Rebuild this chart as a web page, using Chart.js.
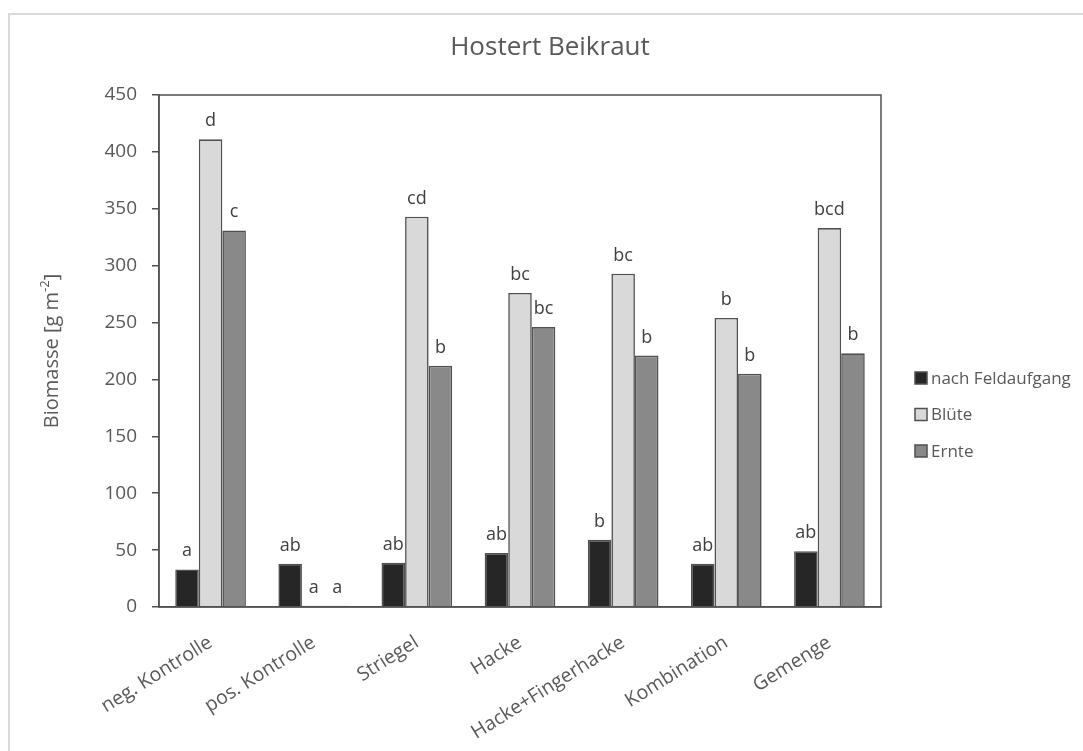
<!DOCTYPE html>
<html>
<head>
<meta charset="utf-8">
<script src="https://cdn.jsdelivr.net/npm/chart.js@4"></script>
<style>
  html, body { margin: 0; padding: 0; background: #fff; }
  #wrap { position: relative; width: 1083px; height: 751px; overflow: hidden; }
  #frame { position: absolute; left: 8px; top: 13px; width: 1200px; height: 900px;
           border-left: 2px solid #d9d9d9; border-top: 2px solid #d9d9d9; }
  canvas { position: absolute; left: 0; top: 0; }
</style>
</head>
<body>
<div id="wrap">
  <div id="frame"></div>
  <canvas id="c" width="1083" height="751"></canvas>
</div>
<script>
// Treatments (x categories)
const categories = ['neg. Kontrolle', 'pos. Kontrolle', 'Striegel', 'Hacke', 'Hacke+Fingerhacke', 'Kombination', 'Gemenge'];

// Weed biomass per sampling date [g m-2]
const nachFeldaufgang = [33, 38, 39, 47.5, 59, 38, 49];
const bluete          = [411, 1.2, 343, 276, 293, 254, 333];
const ernte           = [331, 1.2, 212, 246, 221, 205, 223];

// Significance letters shown above each bar
const lettersNach   = ['a', 'ab', 'ab', 'ab', 'b', 'ab', 'ab'];
const lettersBluete = ['d', 'a', 'cd', 'bc', 'bc', 'b', 'bcd'];
const lettersErnte  = ['c', 'a', 'b', 'bc', 'b', 'b', 'b'];

const seriesNames = ['nach Feldaufgang', 'Blüte', 'Ernte'];

// Y axis range
const yMin = 0, yMax = 450, yStep = 50;

const FONT = '"Open Sans", "DejaVu Sans", sans-serif';
const TXT = '#595959';
const EDGE = '#505050';

const letterSets = [lettersNach, lettersBluete, lettersErnte];

const decorPlugin = {
  id: 'decor',
  afterDatasetsDraw(chart) {
    const ctx = chart.ctx;
    const a = chart.chartArea;
    ctx.save();
    // frame around plot area
    ctx.strokeStyle = EDGE;
    ctx.lineWidth = 1.5;
    ctx.strokeRect(a.left, a.top, a.right - a.left, a.bottom - a.top);

    // significance letters
    ctx.fillStyle = '#404040';
    ctx.font = '18px ' + FONT;
    ctx.textAlign = 'center';
    ctx.textBaseline = 'alphabetic';
    chart.data.datasets.forEach((ds, di) => {
      const meta = chart.getDatasetMeta(di);
      meta.data.forEach((bar, i) => {
        ctx.fillText(letterSets[di][i], bar.x, bar.y - 13);
      });
    });

    // legend
    ctx.font = '17px ' + FONT;
    ctx.textAlign = 'left';
    ctx.textBaseline = 'middle';
    const lx = 915, ly0 = 378, lstep = 36.5, box = 12;
    chart.data.datasets.forEach((ds, di) => {
      const cy = ly0 + di * lstep;
      ctx.fillStyle = ds.backgroundColor;
      ctx.fillRect(lx, cy - box / 2, box, box);
      ctx.strokeStyle = EDGE;
      ctx.lineWidth = 1.5;
      ctx.strokeRect(lx, cy - box / 2, box, box);
      ctx.fillStyle = TXT;
      ctx.fillText(ds.label, lx + box + 4, cy + 1);
    });

    // chart title
    ctx.font = '26px ' + FONT;
    ctx.textAlign = 'center';
    ctx.textBaseline = 'middle';
    ctx.fillStyle = TXT;
    ctx.fillText('Hostert Beikraut', 550, 48);

    // y axis title with superscript
    ctx.translate(52, (a.top + a.bottom) / 2);
    ctx.rotate(-Math.PI / 2);
    const main = 'Biomasse [g m', sup = '-2', end = ']';
    ctx.font = '20px ' + FONT;
    const w1 = ctx.measureText(main).width;
    const w3 = ctx.measureText(end).width;
    ctx.font = '13px ' + FONT;
    const w2 = ctx.measureText(sup).width;
    let x = -(w1 + w2 + w3) / 2;
    ctx.textAlign = 'left';
    ctx.textBaseline = 'middle';
    ctx.font = '20px ' + FONT;
    ctx.fillText(main, x, 0);
    x += w1;
    ctx.font = '13px ' + FONT;
    ctx.fillText(sup, x, -7);
    x += w2;
    ctx.font = '20px ' + FONT;
    ctx.fillText(end, x, 0);
    ctx.restore();
  }
};

new Chart(document.getElementById('c'), {
  type: 'bar',
  data: {
    labels: categories,
    datasets: [
      { label: seriesNames[0], data: nachFeldaufgang, backgroundColor: '#262626' },
      { label: seriesNames[1], data: bluete, backgroundColor: '#d9d9d9' },
      { label: seriesNames[2], data: ernte, backgroundColor: '#898989' }
    ].map(d => Object.assign(d, { borderColor: EDGE, borderWidth: 1.6, categoryPercentage: 0.685, barPercentage: 1 }))
  },
  options: {
    responsive: false,
    devicePixelRatio: 1,
    animation: false,
    layout: { padding: { top: 95, right: 202, bottom: 0, left: 0 } },
    plugins: {
      legend: { display: false },
      title: { display: false },
      tooltip: { enabled: false }
    },
    scales: {
      x: {
        grid: { display: false, drawTicks: false },
        border: { display: true, color: EDGE, width: 1.5 },
        ticks: {
          color: TXT,
          font: { family: FONT, size: 19.5 },
          minRotation: 32,
          maxRotation: 32,
          padding: 24,
          autoSkip: false
        },
        afterFit(scale) { scale.height = 751 - 607; }
      },
      y: {
        min: yMin,
        max: yMax,
        grid: { display: true, drawOnChartArea: false, tickLength: 7, color: EDGE, lineWidth: 1.5 },
        border: { display: true, color: EDGE, width: 1.5 },
        ticks: {
          stepSize: yStep,
          color: TXT,
          font: { family: FONT, size: 19 },
          padding: 15
        },
        afterFit(scale) { scale.width = 159; }
      }
    }
  },
  plugins: [decorPlugin]
});
</script>
</body>
</html>
